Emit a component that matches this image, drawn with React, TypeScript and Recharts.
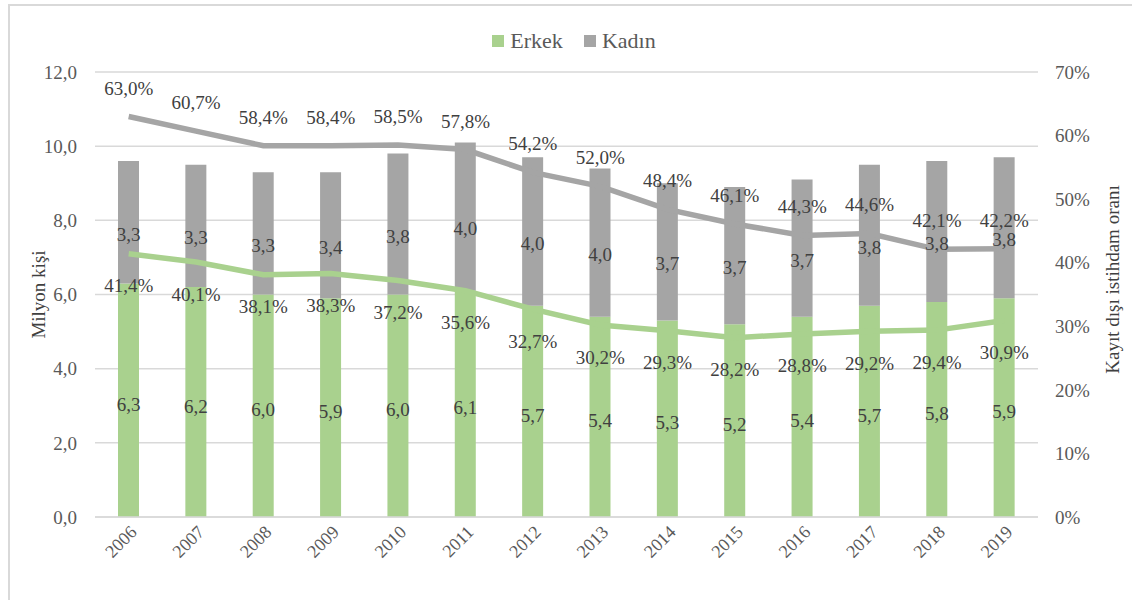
import React from "react";
import { ComposedChart, Bar, Line, XAxis, YAxis, CartesianGrid, LabelList } from "recharts";

const years = ["2006","2007","2008","2009","2010","2011","2012","2013","2014","2015","2016","2017","2018","2019"];
const erkek = [6.3, 6.2, 6.0, 5.9, 6.0, 6.1, 5.7, 5.4, 5.3, 5.2, 5.4, 5.7, 5.8, 5.9];
const kadin = [3.3, 3.3, 3.3, 3.4, 3.8, 4.0, 4.0, 4.0, 3.7, 3.7, 3.7, 3.8, 3.8, 3.8];
const kadinRate = [63.0, 60.7, 58.4, 58.4, 58.5, 57.8, 54.2, 52.0, 48.4, 46.1, 44.3, 44.6, 42.1, 42.2];
const erkekRate = [41.4, 40.1, 38.1, 38.3, 37.2, 35.6, 32.7, 30.2, 29.3, 28.2, 28.8, 29.2, 29.4, 30.9];
const leftTicks = [0, 2, 4, 6, 8, 10, 12];
const rightTicks = [0, 10, 20, 30, 40, 50, 60, 70];
const seriesNames = ["Erkek", "Kadın"];

const data = years.map((y, i) => ({
  year: y,
  erkek: erkek[i],
  kadin: kadin[i],
  kadinRate: kadinRate[i],
  erkekRate: erkekRate[i],
}));

const GREEN = "#a9d18e";
const GRAY = "#a5a5a5";
const TICK = "#595959";
const LABEL = "#404040";
const FONT = "Liberation Serif, Tinos, Times New Roman, DejaVu Serif, serif";

const fmtNum = (v: any) => Number(v).toFixed(1).replace(".", ",");
const fmtPct = (v: any) => Number(v).toFixed(1).replace(".", ",") + "%";

const XTick = (props: any) => {
  const { x, y, payload } = props;
  return (
    <g transform={`translate(${x + 5},${y + 4})`}>
      <text x={0} y={0} dy={6} textAnchor="end" transform="rotate(-45)" fill={TICK} fontSize={18} style={{ fontFamily: FONT }}>
        {payload.value}
      </text>
    </g>
  );
};

const makeBarLabel = (shift: number) => (props: any) => {
  const { x, y, width, height, value } = props;
  const cx = Number(x) + Number(width) / 2;
  const cy = Number(y) + Number(height) / 2 + shift;
  return (
    <text x={cx} y={cy} textAnchor="middle" dominantBaseline="central" fill={LABEL} fontSize={19} style={{ fontFamily: FONT }}>
      {fmtNum(value)}
    </text>
  );
};

export default function App() {
  return (
    <div style={{ position: "absolute", left: 0, top: 0, width: 1132, height: 600, background: "#fff", overflow: "hidden", fontFamily: FONT }}>
      <div style={{ position: "absolute", left: 8, top: 4, width: 1130, height: 600, borderLeft: "2px solid #d9d9d9", borderTop: "2px solid #d9d9d9" }} />
      <div style={{ position: "absolute", left: 0, top: 28, width: 1132, display: "flex", justifyContent: "center", alignItems: "center", fontFamily: FONT, fontSize: 22, color: TICK, lineHeight: "26px" }}>
        <div style={{ display: "flex", alignItems: "center", marginLeft: 16 }}>
          <span style={{ display: "inline-block", width: 12, height: 12, background: GREEN, marginRight: 6 }} />
          <span style={{ marginRight: 21 }}>{seriesNames[0]}</span>
          <span style={{ display: "inline-block", width: 12, height: 12, background: GRAY, marginRight: 6 }} />
          <span>{seriesNames[1]}</span>
        </div>
      </div>
      <div style={{ position: "absolute", left: 8, top: 8 }}>
        <ComposedChart width={1124} height={592} data={data} margin={{ top: 64, right: 10, left: 10, bottom: 10 }} barCategoryGap="0%" style={{ fontFamily: FONT }}>
          <CartesianGrid yAxisId="left" vertical={false} stroke="#d9d9d9" strokeWidth={1.5} />
          <XAxis
            dataKey="year"
            axisLine={{ stroke: "#d9d9d9", strokeWidth: 1.5 }}
            tickLine={false}
            tick={<XTick />}
            height={73}
            interval={0}
          />
          <YAxis
            yAxisId="left"
            domain={[0, 12]}
            ticks={leftTicks}
            tickFormatter={fmtNum}
            axisLine={false}
            tickLine={false}
            width={77}
            tickMargin={12}
            tick={{ fill: TICK, fontSize: 19, fontFamily: FONT }}
            label={{
              content: (p: any) => {
                const vb = p.viewBox || {};
                const cx = vb.x + 20;
                const cy = vb.y + vb.height / 2;
                return (
                  <text x={cx} y={cy} transform={`rotate(-90, ${cx}, ${cy})`} textAnchor="middle" dominantBaseline="central" fill={LABEL} fontSize={19} style={{ fontFamily: FONT }}>
                    Milyon kişi
                  </text>
                );
              },
            }}
          />
          <YAxis
            yAxisId="right"
            orientation="right"
            domain={[0, 70]}
            ticks={rightTicks}
            tickFormatter={(v: any) => `${v}%`}
            axisLine={false}
            tickLine={false}
            width={84}
            tickMargin={11}
            tick={{ fill: TICK, fontSize: 19, fontFamily: FONT, textAnchor: "start" }}
            label={{
              content: (p: any) => {
                const vb = p.viewBox || {};
                const cx = vb.x + 74;
                const cy = vb.y + vb.height / 2 - 15;
                return (
                  <text x={cx} y={cy} transform={`rotate(-90, ${cx}, ${cy})`} textAnchor="middle" dominantBaseline="central" fill={LABEL} fontSize={19} style={{ fontFamily: FONT }}>
                    Kayıt dışı istihdam oranı
                  </text>
                );
              },
            }}
          />
          <Bar yAxisId="left" dataKey="erkek" name={seriesNames[0]} stackId="a" fill={GREEN} barSize={21} isAnimationActive={false}>
            <LabelList dataKey="erkek" content={makeBarLabel(4)} />
          </Bar>
          <Bar yAxisId="left" dataKey="kadin" name={seriesNames[1]} stackId="a" fill={GRAY} barSize={21} isAnimationActive={false}>
            <LabelList dataKey="kadin" content={makeBarLabel(12)} />
          </Bar>
          <Line yAxisId="right" type="linear" dataKey="kadinRate" stroke={GRAY} strokeWidth={5.5} dot={false} legendType="none" isAnimationActive={false}>
            <LabelList dataKey="kadinRate" position="top" offset={22} formatter={fmtPct} fill={LABEL} fontSize={19} fontFamily={FONT} />
          </Line>
          <Line yAxisId="right" type="linear" dataKey="erkekRate" stroke={GREEN} strokeWidth={5.5} dot={false} legendType="none" isAnimationActive={false}>
            <LabelList dataKey="erkekRate" position="bottom" offset={25} formatter={fmtPct} fill={LABEL} fontSize={19} fontFamily={FONT} />
          </Line>
        </ComposedChart>
      </div>
    </div>
  );
}
